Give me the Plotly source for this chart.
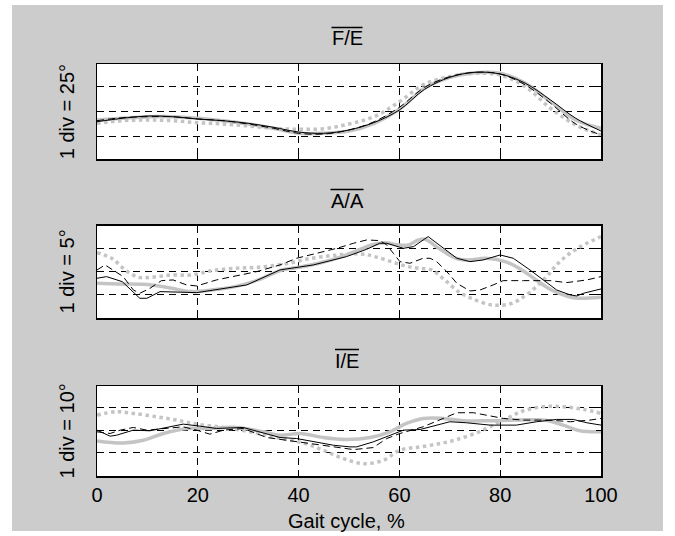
import plotly.graph_objects as go

# ---------------- data ----------------
gait_x = [0, 20, 40, 60, 80, 100]
tick_labels = ["0", "20", "40", "60", "80", "100"]

# Panel 1: F/E (1 div = 25 deg)
fe_x = [0, 5, 10, 15, 20, 25, 30, 35, 40, 45, 50, 55, 60, 65, 70, 75, 80, 85, 90, 95, 100]
fe_solid = [14.3, 17.7, 20, 19.3, 17, 15.3, 12.7, 8.7, 4, 2.7, 6, 13.5, 26, 46.7, 58.7, 63.7, 62, 52.7, 36, 17.7, 5]
fe_dash = [15.3, 18.3, 19.3, 19.3, 17, 15.3, 12, 7.7, 2.7, 2, 6, 14.3, 28.7, 48.7, 59.3, 63.7, 62, 51, 32.7, 12, 1]
fe_gray = [16, 17.7, 19.3, 19.3, 17.7, 15.3, 12, 7.7, 2.7, 2.7, 5, 12.7, 26.7, 47.7, 58.7, 63.3, 62.7, 52.7, 34.3, 16, 7.7]
fe_dot = [12.7, 15.3, 16, 15.3, 13.3, 12, 10, 7.7, 6.7, 7.3, 12, 19.3, 34.3, 52, 59.3, 62.7, 61, 49.3, 27.7, 11, 1]

# Panel 2: A/A (1 div = 5 deg)
aa_solid_x = [0, 1.9, 5, 8.5, 9.9, 12.5, 19.8, 25.1, 29.7, 36.3, 40.3, 42.9, 49.5, 53.5, 56.1, 57.5, 60.8,
              62.8, 65.7, 68.7, 71.4, 74, 76.6, 80, 82.6, 85.9, 88.6, 91.2, 93.9, 95.2, 96.5, 100]
aa_solid = [-1.52, -1.16, -2.25, -5.87, -5.87, -4.42, -4.64, -3.70, -2.97, 0.29, 1.01, 1.38, 3.19, 4.78, 6.09,
            6.09, 5.0, 5.36, 7.54, 5.0, 2.83, 2.10, 2.46, 3.55, 2.83, 0.29, -1.88, -4.06, -5.14, -5.36, -4.78, -3.84]
aa_dash_x = [0, 1.6, 5.2, 7.2, 8.5, 10.5, 12.8, 15.1, 17.8, 19.8, 23.7, 27.7, 31.7, 36.3, 39.6, 43.6, 47.6,
             50.9, 53.5, 56.1, 57.5, 58.8, 60.1, 62.1, 64.7, 66.1, 67.4, 69.4, 71.4, 74, 76, 78.6, 80.6,
             84.6, 89.9, 93.2, 97.2, 100]
aa_dash = [0.29, 1.38, -1.16, -4.06, -4.78, -3.70, -2.03, -1.88, -2.97, -3.19, -1.88, -1.01, -0.07, 1.38,
           2.83, 3.91, 5.0, 6.09, 6.81, 6.67, 5.72, 3.91, 2.10, 1.74, 2.83, 2.83, 2.10, -0.07, -2.61, -4.28,
           -4.06, -2.97, -2.03, -2.03, -2.03, -2.46, -1.88, -1.16]
aa_gray_x = [0, 4.1, 10.8, 14.8, 18.8, 22.8, 27.4, 32, 36.7, 40, 44, 48.6, 51.9, 54.5, 57.1, 59.8, 61.8,
             63.8, 65.1, 67.8, 71.2, 73.7, 77.1, 81, 84.3, 87.6, 90.2, 93.5, 95.5, 100]
aa_gray = [-2.61, -2.75, -2.97, -3.70, -4.42, -4.06, -3.33, -1.88, 0.29, 0.87, 1.74, 3.19, 4.64, 5.72, 6.23,
           5.72, 5.72, 6.81, 6.96, 5.0, 2.83, 2.46, 2.83, 2.10, 0.29, -2.25, -4.06, -5.51, -5.87, -5.65]
aa_dot_x = [0, 2.9, 5.6, 8.2, 10.8, 14.8, 18.8, 22.8, 27.4, 32, 37.3, 42.6, 47.9, 52.5, 55.1, 58.4, 61.1,
            63.8, 66.4, 69.0, 71.7, 74.3, 78.3, 82.3, 85.6, 88.9, 91.5, 94.8, 100]
aa_dot = [4.06, 2.83, 0.29, -1.30, -1.30, -0.80, -0.80, 0.14, 0.65, 0.87, 1.59, 2.83, 3.55, 3.77, 3.19,
          2.10, 1.16, 0.65, 0.29, -1.88, -4.42, -5.87, -7.32, -6.96, -4.78, -1.52, 1.74, 4.64, 7.54]

# Panel 3: I/E (1 div = 10 deg)
ie_solid_x = [0, 2.6, 3.9, 7.2, 10.5, 13.8, 17.1, 20.4, 23.7, 29.0, 33.0, 36.3, 39.6, 43.6, 46.9, 50.2,
              51.5, 54.8, 58.1, 60.8, 64.1, 67.4, 70.0, 73.3, 78.0, 83.2, 87.2, 91.2, 94.5, 97.2, 100]
ie_solid = [0, -2.65, -2.21, 0, -0.29, 1.18, 2.65, 1.76, 0.74, 1.18, -1.18, -3.24, -3.68, -5.15, -6.62,
            -7.35, -7.35, -5.15, -2.21, 0, 0.29, 2.21, 3.68, 3.24, 2.21, 2.21, 3.68, 4.71, 4.71, 3.24, 2.21]
ie_dash_x = [0, 2.6, 4.6, 7.2, 9.9, 13.8, 17.1, 19.8, 22.4, 25.1, 29.0, 33.7, 38.3, 43.6, 47.6, 50.9,
             54.8, 57.5, 60.1, 64.7, 68.7, 71.4, 74.7, 77.3, 80.6, 84.6, 89.9, 93.9, 97.8, 100]
ie_dash = [-0.74, -1.47, 0, 1.18, 0, 0.74, 1.47, 0, -1.76, 0, 0.74, -3.24, -4.71, -6.18, -7.65, -8.53,
           -7.65, -3.68, -1.47, 1.47, 5.15, 7.65, 7.65, 6.62, 5.15, 4.41, 4.41, 3.68, 4.41, 5.15]
ie_gray_x = [0, 5.2, 9.2, 13.2, 17.8, 21.8, 27.7, 33.0, 36.3, 40.3, 44.9, 49.5, 54.2, 58.1, 61.4, 64.7,
             68.7, 72.7, 78.0, 83.2, 88.6, 92.5, 95.8, 100]
ie_gray = [-4.71, -5.59, -4.41, -1.47, 0.74, 0.74, 1.18, -0.74, -2.21, -1.47, -3.24, -4.12, -3.24, -0.74,
           2.94, 5.15, 5.15, 4.12, 4.12, 4.41, 4.41, 2.21, -0.29, -0.74]
ie_dot_x = [0, 3.9, 7.2, 11.8, 15.8, 19.8, 25.1, 30.4, 35.6, 40.9, 44.9, 48.9, 52.9, 56.8, 60.1, 64.1,
            68.1, 71.4, 75.3, 79.3, 82.0, 84.6, 88.6, 92.5, 96.5, 100]
ie_dot = [6.62, 8.09, 7.35, 5.88, 4.41, 2.65, 1.18, -0.74, -3.24, -5.59, -8.82, -12.5, -14.71, -13.24,
          -8.82, -7.35, -5.88, -4.12, -1.18, 2.94, 5.88, 8.53, 10.29, 10.29, 9.12, 7.35]

titles = ["F/E", "A/A", "I/E"]
ylabels = ["1 div = 25°", "1 div = 5°", "1 div = 10°"]
xlabel = "Gait cycle, %"

# ---------------- layout helpers ----------------
W, H = 675, 536
L, R, T, B = 97, 601, 64, 476          # plot area in pixels
PW, PH = R - L, B - T


def px(x):
    return (x - L) / PW


def py(y):
    return (B - y) / PH


domains = [[py(159.3), 1.0], [py(318.3), py(225.7)], [0.0, py(386)]]
yranges = [[-23.3, 72.0], [-10.22, 9.91], [-20.13, 19.38]]
yticks = [[0, 25, 50], [-5, 0, 5], [-10, 0, 10]]
title_y = [38, 201, 361]
bar_y = [27.5, 189.5, 349.5]
bar_w = [31, 33, 24]
ylab_y = [111.7, 272, 431]

FONT = "Liberation Sans, Arial, sans-serif"
GRAY = "#c4c4c4"

panels = [
    [(fe_x, fe_dot), (fe_x, fe_gray), (fe_x, fe_dash), (fe_x, fe_solid)],
    [(aa_dot_x, aa_dot), (aa_gray_x, aa_gray), (aa_dash_x, aa_dash), (aa_solid_x, aa_solid)],
    [(ie_dot_x, ie_dot), (ie_gray_x, ie_gray), (ie_dash_x, ie_dash), (ie_solid_x, ie_solid)],
]

fig = go.Figure()
for i, series in enumerate(panels):
    xa = "x" if i == 0 else f"x{i+1}"
    ya = "y" if i == 0 else f"y{i+1}"
    black_shape = "spline" if i == 0 else "linear"
    styles = [
        dict(color=GRAY, width=3.5, dash="dot", shape="spline"),
        dict(color=GRAY, width=3.5, dash="solid", shape="spline"),
        dict(color="black", width=1, dash="7px,4px", shape=black_shape),
        dict(color="black", width=1, dash="solid", shape=black_shape),
    ]
    for (xs, ys), st in zip(series, styles):
        fig.add_trace(go.Scatter(x=xs, y=ys, mode="lines", line=st, xaxis=xa, yaxis=ya,
                                 showlegend=False, hoverinfo="skip"))

axis_common = dict(showline=True, mirror="ticks", linecolor="black", linewidth=1.5,
                   ticks="inside", ticklen=5, tickcolor="black", tickwidth=1,
                   showgrid=True, gridcolor="black", gridwidth=1, griddash="7px,5px",
                   zeroline=False)

layout = dict(width=W, height=H, margin=dict(l=L, r=W - R, t=T, b=H - B, pad=0),
              paper_bgcolor="white", plot_bgcolor="rgba(0,0,0,0)",
              font=dict(family=FONT, size=20, color="black"), showlegend=False)

for i in range(3):
    xk = "xaxis" if i == 0 else f"xaxis{i+1}"
    yk = "yaxis" if i == 0 else f"yaxis{i+1}"
    ya = "y" if i == 0 else f"y{i+1}"
    xa = "x" if i == 0 else f"x{i+1}"
    layout[xk] = dict(axis_common, domain=[0, 1], anchor=ya, range=[0, 100],
                      tickvals=gait_x, ticktext=tick_labels, showticklabels=(i == 2),
                      tickfont=dict(family=FONT, size=20, color="black"))
    layout[yk] = dict(axis_common, domain=domains[i], anchor=xa, range=yranges[i],
                      tickvals=yticks[i], showticklabels=False)

shapes = [dict(type="rect", xref="paper", yref="paper", x0=px(12), x1=px(663), y0=py(531), y1=py(5),
               fillcolor="#cccccc", line=dict(width=0), layer="below")]
for d in domains:
    shapes.append(dict(type="rect", xref="paper", yref="paper", x0=0, x1=1, y0=d[0], y1=d[1],
                       fillcolor="white", line=dict(width=0), layer="below"))
for i in range(3):
    cx = 347
    shapes.append(dict(type="line", xref="paper", yref="paper",
                       x0=px(cx - bar_w[i] / 2), x1=px(cx + bar_w[i] / 2),
                       y0=py(bar_y[i]), y1=py(bar_y[i]), line=dict(color="black", width=1.5)))
layout["shapes"] = shapes

ann = []
for i in range(3):
    ann.append(dict(text=titles[i], xref="paper", yref="paper", x=px(347), y=py(title_y[i]),
                    xanchor="center", yanchor="middle", showarrow=False,
                    font=dict(family=FONT, size=20, color="black")))
    ann.append(dict(text=ylabels[i], xref="paper", yref="paper", x=px(66.5), y=py(ylab_y[i]),
                    xanchor="center", yanchor="middle", showarrow=False, textangle=-90,
                    font=dict(family=FONT, size=20, color="black")))
ann.append(dict(text=xlabel, xref="paper", yref="paper", x=px(346), y=py(521),
                xanchor="center", yanchor="middle", showarrow=False,
                font=dict(family=FONT, size=20, color="black")))
layout["annotations"] = ann

fig.update_layout(**layout)
fig.write_html("out.html", config={"displayModeBar": False, "staticPlot": True},
               post_script="document.body.style.margin='0';document.body.style.overflow='hidden';")
